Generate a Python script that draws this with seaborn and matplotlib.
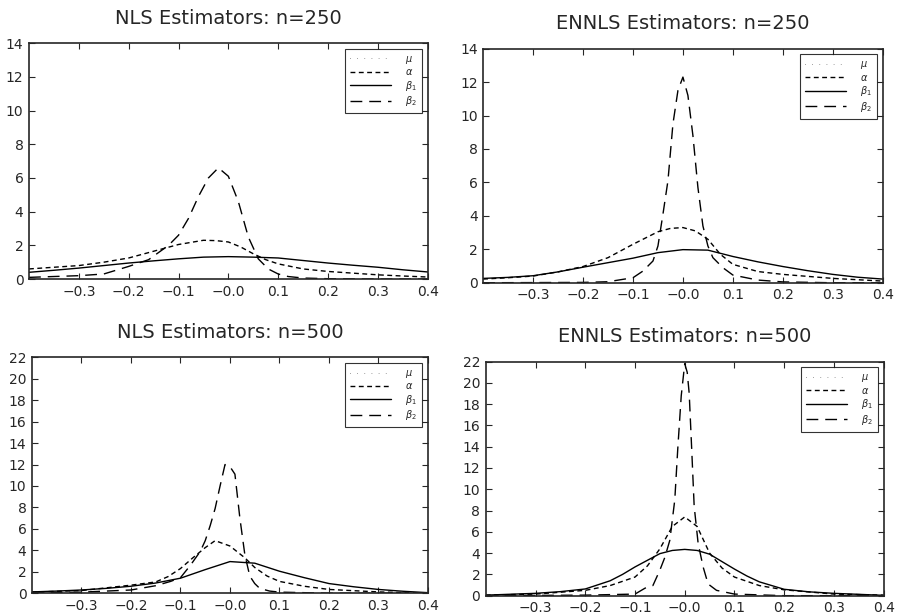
import numpy as np
import pandas as pd
import matplotlib
matplotlib.use("Agg")
import matplotlib.pyplot as plt
from matplotlib.lines import Line2D
import seaborn as sns

# values
# NLS, n=250
nls250_alpha_x = [-0.4, -0.35, -0.3, -0.25, -0.2, -0.15, -0.1, -0.05, -0.025, 0.0, 0.025, 0.05, 0.075, 0.1, 0.15, 0.2, 0.25, 0.3, 0.35, 0.4]
nls250_alpha_y = [0.6, 0.7, 0.8, 1.0, 1.25, 1.65, 2.05, 2.3, 2.28, 2.2, 1.9, 1.5, 1.15, 0.9, 0.6, 0.45, 0.35, 0.25, 0.18, 0.12]
nls250_b1_x = [-0.4, -0.35, -0.3, -0.25, -0.2, -0.15, -0.1, -0.05, 0.0, 0.05, 0.1, 0.15, 0.2, 0.25, 0.3, 0.35, 0.4]
nls250_b1_y = [0.4, 0.52, 0.65, 0.8, 0.95, 1.08, 1.2, 1.3, 1.33, 1.3, 1.25, 1.1, 0.95, 0.82, 0.7, 0.55, 0.42]
nls250_b2_x = [-0.4, -0.35, -0.3, -0.25, -0.2, -0.16, -0.12, -0.1, -0.08, -0.06, -0.04, -0.02, 0.0, 0.02, 0.04, 0.06, 0.08, 0.1, 0.12, 0.15, 0.2, 0.3, 0.4]
nls250_b2_y = [0.1, 0.15, 0.2, 0.3, 0.75, 1.15, 2.0, 2.6, 3.6, 4.9, 6.0, 6.6, 6.1, 4.6, 2.5, 1.2, 0.6, 0.3, 0.15, 0.06, 0.02, 0.0, 0.0]

# ENNLS, n=250
ennls250_alpha_x = [-0.4, -0.35, -0.3, -0.25, -0.2, -0.15, -0.1, -0.05, -0.025, 0.0, 0.025, 0.05, 0.075, 0.1, 0.15, 0.2, 0.3, 0.4]
ennls250_alpha_y = [0.22, 0.3, 0.4, 0.65, 0.97, 1.5, 2.3, 3.05, 3.25, 3.3, 3.1, 2.6, 1.7, 1.1, 0.67, 0.5, 0.26, 0.1]
ennls250_b1_x = [-0.4, -0.35, -0.3, -0.25, -0.2, -0.15, -0.1, -0.05, 0.0, 0.05, 0.1, 0.15, 0.2, 0.25, 0.3, 0.35, 0.4]
ennls250_b1_y = [0.26, 0.32, 0.42, 0.65, 0.93, 1.2, 1.47, 1.8, 1.98, 1.95, 1.57, 1.25, 0.97, 0.72, 0.5, 0.33, 0.22]
ennls250_b2_x = [-0.4, -0.2, -0.15, -0.1, -0.08, -0.06, -0.05, -0.04, -0.03, -0.02, -0.01, 0.0, 0.01, 0.02, 0.03, 0.04, 0.05, 0.06, 0.08, 0.1, 0.15, 0.2, 0.3, 0.4]
ennls250_b2_y = [0.0, 0.02, 0.06, 0.3, 0.7, 1.3, 2.2, 4.1, 6.1, 9.5, 11.5, 12.3, 11.2, 8.8, 5.7, 3.4, 2.2, 1.5, 0.9, 0.46, 0.16, 0.05, 0.0, 0.0]

# NLS, n=500
nls500_alpha_x = [-0.4, -0.3, -0.2, -0.15, -0.125, -0.1, -0.075, -0.05, -0.03, 0.0, 0.03, 0.05, 0.075, 0.1, 0.15, 0.2, 0.3, 0.4]
nls500_alpha_y = [0.1, 0.25, 0.75, 1.05, 1.55, 2.3, 3.3, 4.25, 4.9, 4.4, 3.3, 2.4, 1.6, 1.1, 0.65, 0.35, 0.12, 0.0]
nls500_b1_x = [-0.4, -0.35, -0.3, -0.25, -0.2, -0.15, -0.1, -0.05, 0.0, 0.05, 0.1, 0.15, 0.2, 0.25, 0.3, 0.35, 0.4]
nls500_b1_y = [0.12, 0.2, 0.3, 0.45, 0.65, 0.95, 1.4, 2.2, 2.95, 2.8, 2.05, 1.45, 0.9, 0.6, 0.35, 0.18, 0.05]
nls500_b2_x = [-0.4, -0.3, -0.2, -0.15, -0.12, -0.1, -0.08, -0.06, -0.05, -0.04, -0.03, -0.02, -0.01, 0.0, 0.01, 0.02, 0.03, 0.04, 0.05, 0.06, 0.08, 0.1, 0.2, 0.4]
nls500_b2_y = [0.05, 0.1, 0.3, 0.7, 1.1, 1.45, 2.6, 3.9, 4.9, 6.3, 7.9, 10.0, 12.0, 11.8, 11.1, 7.0, 3.6, 1.6, 0.9, 0.45, 0.2, 0.1, 0.0, 0.0]

# ENNLS, n=500
ennls500_alpha_x = [-0.4, -0.3, -0.2, -0.15, -0.1, -0.075, -0.05, -0.025, 0.0, 0.025, 0.05, 0.075, 0.1, 0.15, 0.2, 0.3, 0.4]
ennls500_alpha_y = [0.05, 0.15, 0.5, 0.95, 1.75, 2.8, 4.4, 6.5, 7.4, 6.5, 4.0, 2.6, 1.75, 0.95, 0.55, 0.15, 0.05]
ennls500_b1_x = [-0.4, -0.3, -0.25, -0.2, -0.15, -0.125, -0.1, -0.05, -0.025, 0.0, 0.025, 0.05, 0.1, 0.125, 0.15, 0.2, 0.25, 0.3, 0.4]
ennls500_b1_y = [0.05, 0.22, 0.38, 0.63, 1.4, 2.0, 2.7, 3.95, 4.25, 4.35, 4.25, 3.9, 2.5, 1.85, 1.3, 0.6, 0.36, 0.22, 0.03]
ennls500_b2_x = [-0.4, -0.2, -0.1, -0.08, -0.07, -0.064, -0.05, -0.04, -0.03, -0.02, -0.014, -0.007, 0.0, 0.005, 0.009, 0.014, 0.019, 0.027, 0.037, 0.047, 0.064, 0.1, 0.2, 0.4]
ennls500_b2_y = [0.0, 0.05, 0.15, 0.7, 0.9, 0.95, 2.4, 3.6, 5.2, 9.0, 13.8, 18.8, 21.8, 21.0, 19.0, 13.8, 8.4, 4.9, 2.7, 1.1, 0.5, 0.15, 0.0, 0.0]

titles = ["NLS Estimators: n=250", "ENNLS Estimators: n=250",
          "NLS Estimators: n=500", "ENNLS Estimators: n=500"]
xtick_vals = [-0.3, -0.2, -0.1, 0.0, 0.1, 0.2, 0.3, 0.4]
xtick_labels = ["\u22120.3", "\u22120.2", "\u22120.1", "\u22120.0", "0.1", "0.2", "0.3", "0.4"]
legend_labels = [r"$\mu$", r"$\alpha$", r"$\beta_1$", r"$\beta_2$"]

panels = [
    (nls250_alpha_x, nls250_alpha_y, nls250_b1_x, nls250_b1_y, nls250_b2_x, nls250_b2_y, 14),
    (ennls250_alpha_x, ennls250_alpha_y, ennls250_b1_x, ennls250_b1_y, ennls250_b2_x, ennls250_b2_y, 14),
    (nls500_alpha_x, nls500_alpha_y, nls500_b1_x, nls500_b1_y, nls500_b2_x, nls500_b2_y, 22),
    (ennls500_alpha_x, ennls500_alpha_y, ennls500_b1_x, ennls500_b1_y, ennls500_b2_x, ennls500_b2_y, 22),
]

sns.set_style("ticks")
plt.rcParams["font.family"] = ["DejaVu Sans"]

fig = plt.figure(figsize=(8.98, 6.16), dpi=100)
boxes = [
    [0.0323, 0.547, 0.444, 0.383],
    [0.538, 0.541, 0.445, 0.380],
    [0.0356, 0.037, 0.441, 0.383],
    [0.541, 0.033, 0.443, 0.380],
]

short_dash = (0, (3.5, 2.5))
long_dash = (0, (8.5, 5))

for box, title, (ax_, ay, b1x, b1y, b2x, b2y, ymax) in zip(boxes, titles, panels):
    ax = fig.add_axes(box)
    sns.lineplot(x=ax_, y=ay, ax=ax, color="black", lw=1.0, linestyle=short_dash, errorbar=None)
    sns.lineplot(x=b1x, y=b1y, ax=ax, color="black", lw=1.0, errorbar=None)
    sns.lineplot(x=b2x, y=b2y, ax=ax, color="black", lw=1.0, linestyle=long_dash, errorbar=None)
    ax.set_xlim(-0.4, 0.4)
    ax.set_ylim(0, ymax)
    ax.set_xticks(xtick_vals)
    ax.set_xticklabels(xtick_labels)
    ax.set_yticks(np.arange(0, ymax + 1, 2))
    ax.tick_params(axis="both", labelsize=10, length=4, width=0.8, pad=4,
                   top=True, right=True, direction="in")
    for sp in ax.spines.values():
        sp.set_linewidth(1.2)
        sp.set_visible(True)
    ax.set_title(title, fontsize=14, pad=14)

    handles = [
        Line2D([], [], color="black", lw=0.6, linestyle=(0, (0.5, 8))),
        Line2D([], [], color="black", lw=1.0, linestyle=short_dash),
        Line2D([], [], color="black", lw=1.0),
        Line2D([], [], color="black", lw=1.0, linestyle=long_dash),
    ]
    leg = ax.legend(handles, legend_labels, loc="upper right", fontsize=7,
                    frameon=True, fancybox=False, edgecolor="black",
                    handlelength=4.2, handletextpad=1.5, labelspacing=0.15,
                    borderpad=0.5, borderaxespad=0.6)
    leg.get_frame().set_linewidth(0.8)

fig.savefig("out.png", dpi=100)
